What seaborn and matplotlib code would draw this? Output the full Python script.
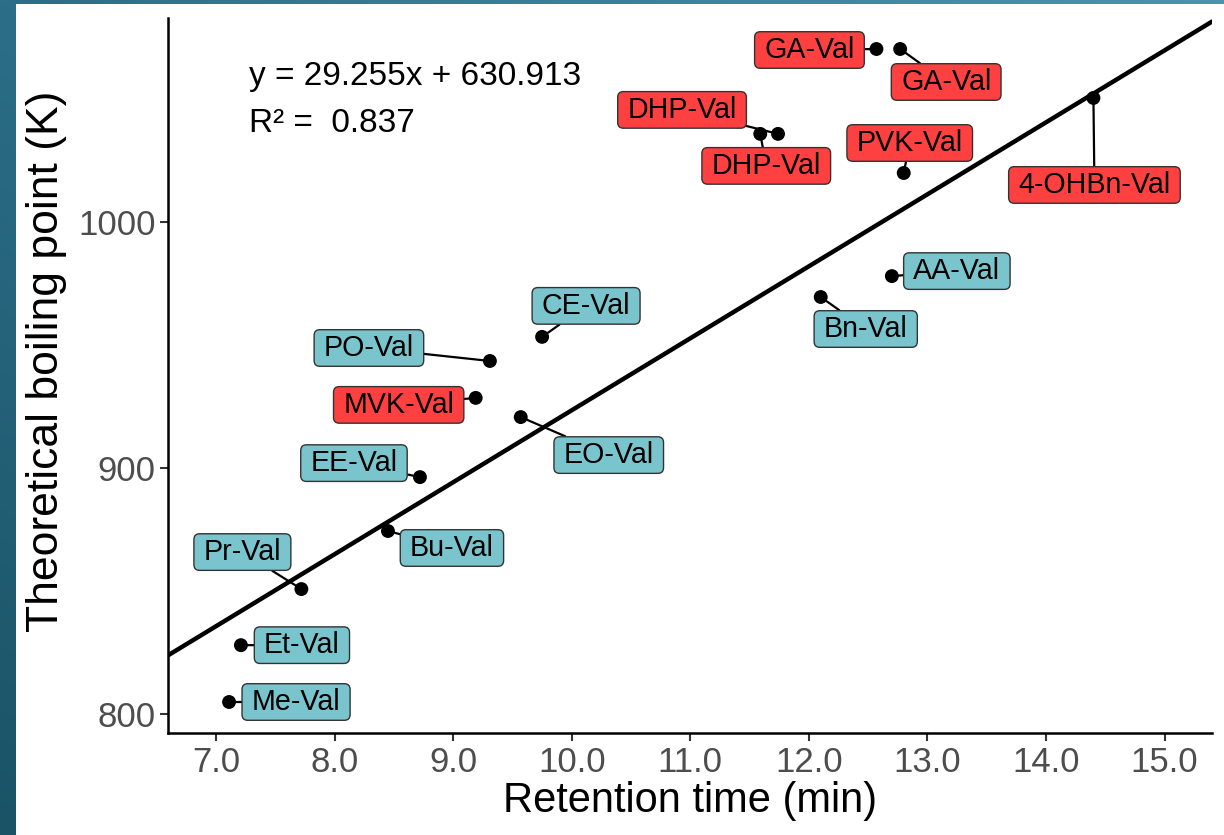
import numpy as np
import pandas as pd
import matplotlib
matplotlib.use("Agg")
import matplotlib.pyplot as plt
from matplotlib.patches import Rectangle, BoxStyle
import seaborn as sns

# Retention time (min) and theoretical boiling point (K) for each valine derivative
compounds = ["Me-Val", "Et-Val", "Pr-Val", "Bu-Val", "EE-Val", "EO-Val", "MVK-Val",
             "PO-Val", "CE-Val", "Bn-Val", "AA-Val", "PVK-Val", "4-OHBn-Val",
             "DHP-Val", "DHP-Val", "GA-Val", "GA-Val"]
retention_time = [7.11, 7.21, 7.72, 8.45, 8.72, 9.57, 9.19,
                  9.31, 9.75, 12.10, 12.70, 12.80, 14.40,
                  11.59, 11.74, 12.57, 12.77]
boiling_point = [804.9, 828.0, 850.8, 874.4, 896.3, 920.7, 928.5,
                 943.5, 953.3, 969.5, 978.0, 1019.9, 1050.4,
                 1035.8, 1035.8, 1070.3, 1070.3]
carbonyl = [False, False, False, False, False, False, True,
            False, False, False, False, True, True,
            True, True, True, True]

# Linear fit reported on the chart
slope = 29.255
intercept = 630.913
r_squared = 0.837

x_ticks = [7.0, 8.0, 9.0, 10.0, 11.0, 12.0, 13.0, 14.0, 15.0]
y_ticks = [800, 900, 1000]

# Label placement (pixel offsets from each point)
label_offsets = [(67, 0), (61, 0), (-59, 37), (64, -17), (-66, 14), (88, -38), (-77, -7),
                 (-121, 13), (44, 31), (45, -32), (65, 5), (6, 30), (1, -87),
                 (6, -32), (-96, 24), (-67, -1), (46, -33)]

df = pd.DataFrame({"compound": compounds, "rt": retention_time,
                   "bp": boiling_point, "carbonyl": carbonyl})

sns.set_theme(style="white")
plt.rcParams["font.family"] = ["Liberation Sans", "DejaVu Sans"]

W, H = 1224, 835
fig = plt.figure(figsize=(W / 100, H / 100), dpi=100)

# Teal gradient frame behind the white panel
bg = fig.add_axes([0, 0, 1, 1], zorder=-10)
tl = np.array([0x2c, 0x6e, 0x88]) / 255
tr = np.array([0x4b, 0x93, 0xad]) / 255
bl = np.array([0x1a, 0x53, 0x66]) / 255
br = np.array([0x20, 0x5c, 0x72]) / 255
u = np.linspace(0, 1, 200)[None, :, None]
v = np.linspace(0, 1, 200)[:, None, None]
grad = (1 - v) * ((1 - u) * tl + u * tr) + v * ((1 - u) * bl + u * br)
bg.imshow(grad, extent=(0, 1, 0, 1), aspect="auto", origin="upper")
bg.add_patch(Rectangle((16 / W, 0), 1, 1 - 4 / H, transform=bg.transAxes,
                       facecolor="white", edgecolor="none"))
bg.set_xlim(0, 1)
bg.set_ylim(0, 1)
bg.axis("off")

ax = fig.add_axes([168 / W, 1 - 733 / H, (1212 - 168) / W, (733 - 18) / H])
ax.set_facecolor("none")

ax.set_xlim(6.595, 15.40)
ax.set_ylim(792.3, 1082.9)

# Regression line from the reported equation
ax.axline((0, intercept), slope=slope, color="black", lw=3.2, zorder=2)

sns.scatterplot(data=df, x="rt", y="bp", color="black", s=100,
                edgecolor="none", ax=ax, zorder=3, legend=False)


def label_box(x0, y0, width, height, mutation_size):
    padx = 0.34 * mutation_size
    pady = 0.15 * mutation_size
    rounded = BoxStyle.Round(pad=0.0, rounding_size=0.2)
    return rounded(x0 - padx, y0 - pady, width + 2 * padx,
                   height + 2 * pady, mutation_size)


for (_, row), (dx, dy) in zip(df.iterrows(), label_offsets):
    fill = "#FF4040" if row["carbonyl"] else "#7AC5CD"
    ax.annotate(row["compound"], xy=(row["rt"], row["bp"]), xytext=(dx, dy),
                textcoords="offset pixels", ha="center", va="center",
                fontsize=20.6, color="black", zorder=4,
                bbox=dict(boxstyle=label_box, facecolor=fill,
                          edgecolor="#333333", linewidth=1.0),
                arrowprops=dict(arrowstyle="-", color="black", lw=1.6,
                                shrinkA=0, shrinkB=3))

ax.text(0.078, 0.918, f"y = {slope:.3f}x + {intercept:.3f}", transform=ax.transAxes,
        fontsize=24, color="black", ha="left", va="center")
ax.text(0.078, 0.852, f"R² =  {r_squared:.3f}", transform=ax.transAxes,
        fontsize=24, color="black", ha="left", va="center")

ax.set_xticks(x_ticks)
ax.set_xticklabels([f"{t:.1f}" for t in x_ticks])
ax.set_yticks(y_ticks)
ax.set_yticklabels([str(t) for t in y_ticks])
ax.tick_params(axis="both", which="major", length=6, width=1.5, color="#333333",
               labelsize=25, labelcolor="#4D4D4D", pad=3, bottom=True, left=True)

for side in ["top", "right"]:
    ax.spines[side].set_visible(False)
for side in ["left", "bottom"]:
    ax.spines[side].set_color("black")
    ax.spines[side].set_linewidth(1.8)

ax.set_xlabel("Retention time (min)", fontsize=30, color="black", labelpad=2)
ax.set_ylabel("Theoretical boiling point (K)", fontsize=32, color="black")
ax.yaxis.set_label_coords(-0.097, 0.52)

fig.savefig("out.png", dpi=100)
